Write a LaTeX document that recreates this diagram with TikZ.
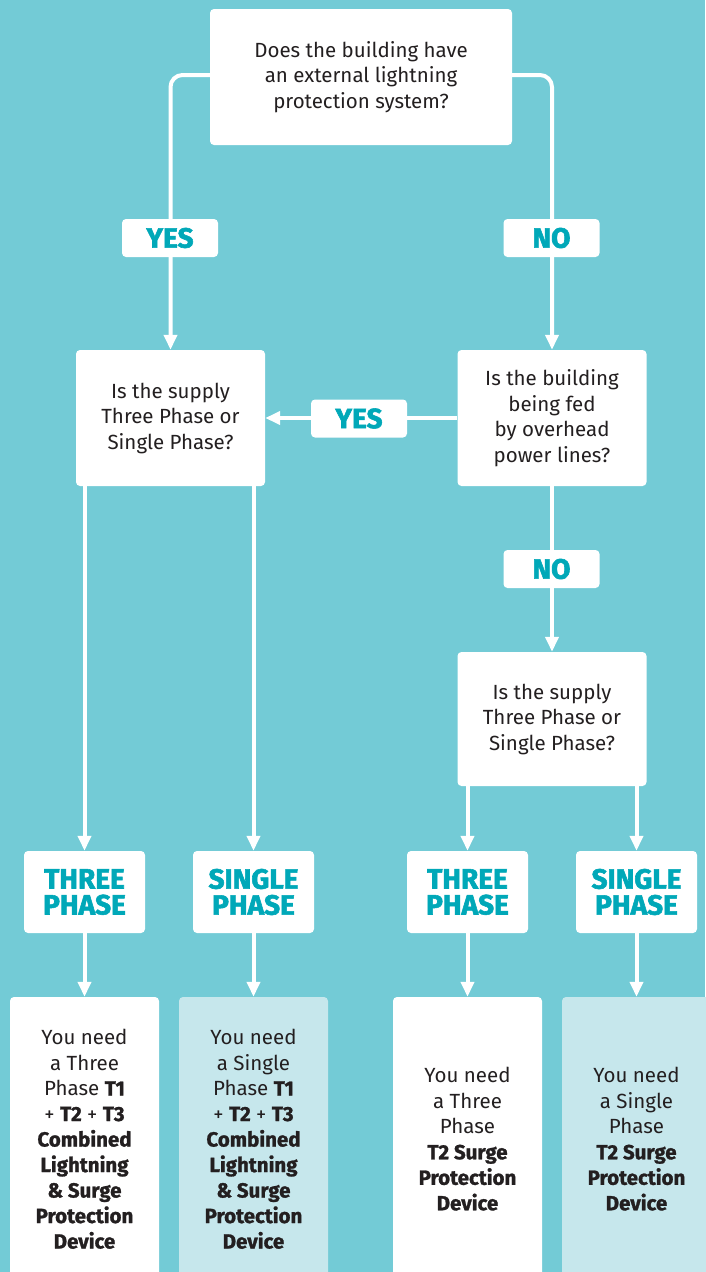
\documentclass[tikz,border=0pt]{standalone}
\usepackage{fontspec}
\setmainfont{Fira Sans}[BoldFeatures={FakeBold=1.2}]
\newfontfamily\labelfont{Fira Sans}[BoldFeatures={FakeBold=2}]
\usetikzlibrary{arrows.meta}
\definecolor{bg}{HTML}{73CBD6}
\definecolor{tealtxt}{HTML}{00A8B8}
\definecolor{ink}{HTML}{231F20}
\definecolor{pale}{HTML}{C6E7EC}
\begin{document}
\begin{tikzpicture}[x=1pt,y=-1pt,
  box/.style={fill=white, rounded corners=4pt, inner sep=0pt, align=center, text=ink,
    font=\fontsize{20.5}{25.5}\selectfont},
  qbox/.style={box, minimum width=189pt, minimum height=136pt},
  lbl/.style={fill=white, rounded corners=4pt, inner sep=0pt, align=center, text=tealtxt,
    minimum width=96pt, minimum height=38pt, font=\labelfont\fontsize{28}{26}\selectfont\bfseries},
  phase/.style={lbl, minimum width=121pt, minimum height=82pt},
  res/.style={box, minimum width=149pt, minimum height=284pt},
  conn/.style={draw=white, line width=4pt, -{Triangle[width=13pt,length=15pt]}}]
\fill[bg] (0,0) rectangle (705,1272);
\useasboundingbox (0,0) rectangle (705,1272);

% question boxes
\node[box, minimum width=302pt, minimum height=136pt] (top) at (361,77)
  {Does the building have\\an external lightning\\protection system?};
\node[qbox] (q1) at (170.5,418) {Is the supply\\Three Phase or\\Single Phase?};
\node[qbox] (q2) at (552,418) {Is the building\\being fed\\by overhead\\power lines?};
\node[qbox, minimum height=134pt] (q3) at (552,719) {Is the supply\\Three Phase or\\Single Phase?};

% phase boxes
\node[phase] (tp1) at (84.5,892) {THREE\\PHASE};
\node[phase] (sp1) at (253.5,892) {SINGLE\\PHASE};
\node[phase] (tp2) at (467.5,892) {THREE\\PHASE};
\node[phase] (sp2) at (636.5,892) {SINGLE\\PHASE};

% result boxes
\node[res] (r1) at (84.5,1139) {You need\\a Three\\Phase \textbf{T1}\\+ \textbf{T2} + \textbf{T3}\\\textbf{Combined}\\\textbf{Lightning}\\\textbf{\& Surge}\\\textbf{Protection}\\\textbf{Device}};
\node[res, fill=pale] (r2) at (253.5,1139) {You need\\a Single\\Phase \textbf{T1}\\+ \textbf{T2} + \textbf{T3}\\\textbf{Combined}\\\textbf{Lightning}\\\textbf{\& Surge}\\\textbf{Protection}\\\textbf{Device}};
\node[res] (r3) at (467.5,1139) {You need\\a Three\\Phase\\\textbf{T2 Surge}\\\textbf{Protection}\\\textbf{Device}};
\node[res, fill=pale] (r4) at (636.5,1139) {You need\\a Single\\Phase\\\textbf{T2 Surge}\\\textbf{Protection}\\\textbf{Device}};

% connectors
\draw[conn, rounded corners=12pt] ([yshift=2pt]top.west) -| (q1.north);
\draw[conn, rounded corners=12pt] ([yshift=2pt]top.east) -| (q2.north);
\draw[conn] (q2.west) -- (q1.east);
\draw[conn] (q2.south) -- (q3.north);
\draw[conn] (q1.south -| tp1.north) -- (tp1.north);
\draw[conn] (q1.south -| sp1.north) -- (sp1.north);
\draw[conn] (q3.south -| tp2.north) -- (tp2.north);
\draw[conn] (q3.south -| sp2.north) -- (sp2.north);
\draw[conn] (tp1.south) -- (r1.north);
\draw[conn] (sp1.south) -- (r2.north);
\draw[conn] (tp2.south) -- (r3.north);
\draw[conn] (sp2.south) -- (r4.north);

% labels on connectors
\node[lbl] (yes1) at (170,238) {YES};
\node[lbl] (no1) at (551.5,238) {NO};
\node[lbl] (yes2) at (359,418.5) {YES};
\node[lbl] (no2) at (551.5,569) {NO};
\end{tikzpicture}
\end{document}
